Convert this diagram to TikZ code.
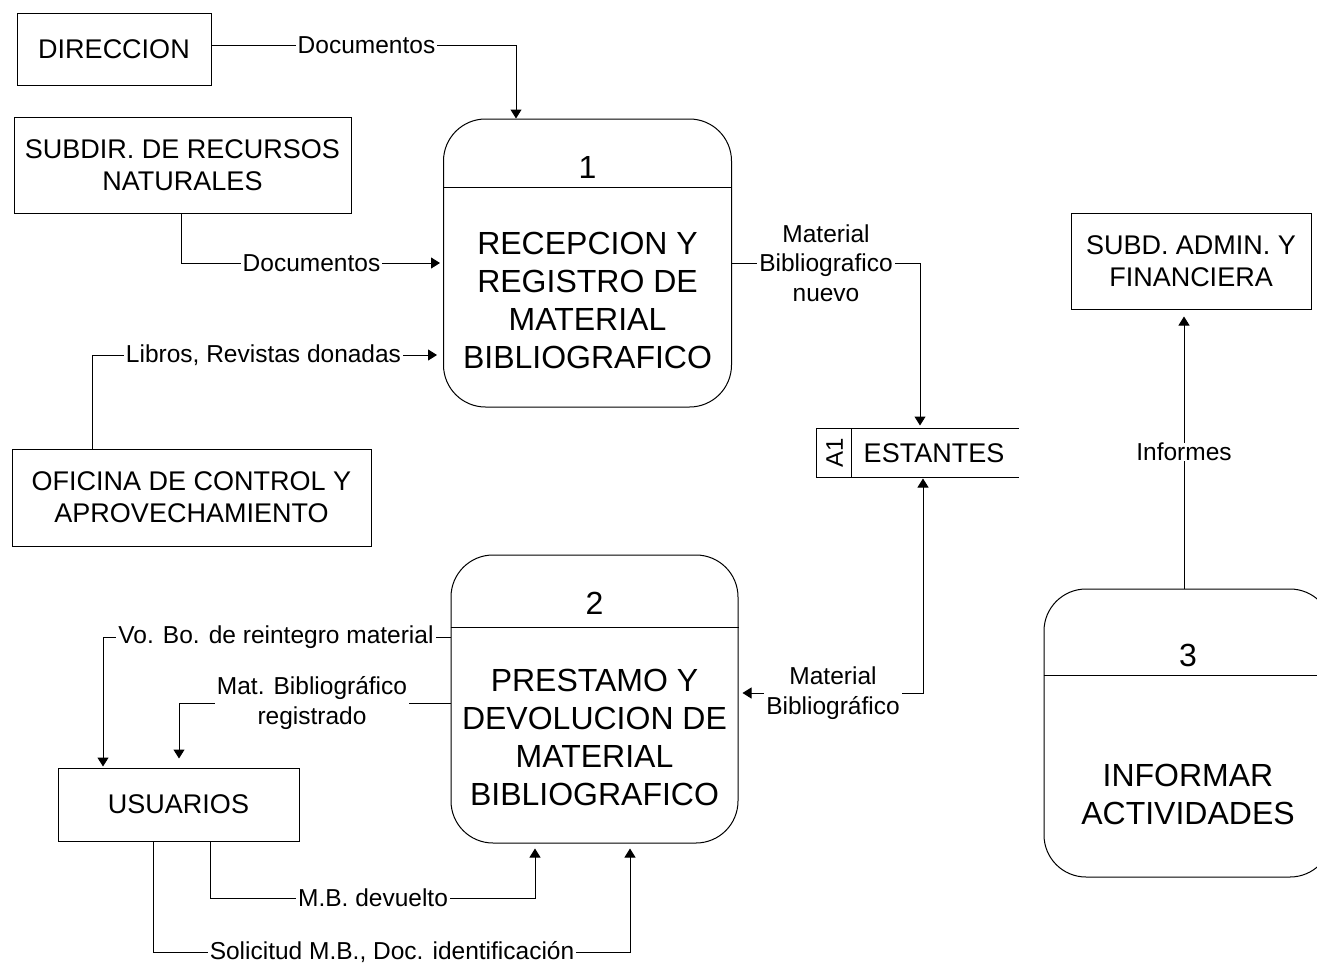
\documentclass[tikz,border=0pt]{standalone}
\usepackage{fontspec}
\setmainfont{Liberation Sans}
\usetikzlibrary{arrows.meta}

\begin{document}
\begin{tikzpicture}[x=1pt,y=-1pt,line width=1pt,
  ext/.style={draw, align=center, inner sep=0pt, font=\fontsize{27}{32}\selectfont},
  proc/.style={draw, rounded corners=42pt, inner sep=0pt, minimum width=288pt, minimum height=288pt},
  ptext/.style={align=center, inner sep=0pt, font=\fontsize{32}{38}\selectfont},
  flowlbl/.style={fill=white, align=center, inner xsep=2pt, inner ysep=0pt, font=\fontsize{24.5}{29.5}\selectfont},
  tip/.style={Triangle[length=9pt,width=11pt]},
  flow/.style={-{Triangle[length=9pt,width=11pt]}},
]
\useasboundingbox (0,0) rectangle (1317,964);
\clip (0,0) rectangle (1317,964);

% external entities
\node[ext, minimum width=194pt, minimum height=72pt] (dir) at (114,49) {DIRECCION};
\node[ext, minimum width=337pt, minimum height=96pt] (sub) at (182.5,165) {SUBDIR. DE RECURSOS\\NATURALES};
\node[ext, minimum width=359pt, minimum height=97pt] (ofi) at (191.5,497.5) {OFICINA DE CONTROL Y\\APROVECHAMIENTO};
\node[ext, minimum width=241pt, minimum height=73pt] (usu) at (178.5,804.5) {USUARIOS};
\node[ext, minimum width=240pt, minimum height=96pt] (sa) at (1191,261) {SUBD. ADMIN. Y\\FINANCIERA};

% processes
\node[proc] (P1) at (587.5,263) {};
\draw (P1.west |- 0,187) -- (P1.east |- 0,187);
\node[ptext] (n1) at (587.5,167) {1};
\node[ptext] (t1) at (587.5,300) {RECEPCION Y\\REGISTRO DE\\MATERIAL\\BIBLIOGRAFICO};

\node[proc, minimum width=287pt] (P2) at (594.5,699) {};
\draw (P2.west |- 0,627) -- (P2.east |- 0,627);
\node[ptext] (n2) at (594.5,603) {2};
\node[ptext] (t2) at (594.5,737) {PRESTAMO Y\\DEVOLUCION DE\\MATERIAL\\BIBLIOGRAFICO};

\node[proc] (P3) at (1188,733) {};
\draw (P3.west |- 0,675) -- (P3.east |- 0,675);
\node[ptext] (n3) at (1188,655) {3};
\node[ptext] (t3) at (1188,794) {INFORMAR\\ACTIVIDADES};

% data store
\node[minimum width=201pt, minimum height=48pt, inner sep=0pt] (st) at (917.5,453) {};
\draw (st.north east) -- (st.north west) -- (st.south west) -- (st.south east);
\draw ([xshift=35pt]st.north west) -- ([xshift=35pt]st.south west);
\node[rotate=90, inner sep=0pt, font=\fontsize{24}{28}\selectfont] (a1) at (834.5,453) {A1};
\node[inner sep=0pt, font=\fontsize{27}{32}\selectfont] (est) at (934,453) {ESTANTES};

% data flows
\draw[flow] ([yshift=4pt]dir.east) -| ([xshift=-71.5pt]P1.north);
\draw[flow, shorten >=3pt] ([xshift=-1.5pt]sub.south) |- (P1.west);
\draw[flow, shorten >=6pt] ([xshift=-99.5pt]ofi.north) |- ([yshift=-92pt]P1.west);
\draw[flow, shorten >=3pt] (P1.east) -| ([xshift=2.5pt]st.north);
\draw[{Triangle[length=9pt,width=11pt]}-{Triangle[length=9pt,width=11pt]}, shorten >=4pt, shorten <=1pt]
  ([xshift=5.5pt]st.south) |- ([yshift=6pt]P2.east);
\draw[flow, shorten >=1pt] ([yshift=62pt]P2.west) -| ([xshift=-75.5pt]usu.north);
\draw[flow, shorten >=9pt] ([yshift=-4pt]P2.west) -| ([xshift=0.5pt]usu.north);
\draw[flow, shorten >=5pt] ([xshift=31.5pt]usu.south) -- ++(0,57) -| ([xshift=-59.5pt]P2.south);
\draw[flow, shorten >=5pt] ([xshift=-25.5pt]usu.south) -- ++(0,111) -| ([xshift=35.5pt]P2.south);
\draw[flow, shorten >=7pt] ([xshift=-4pt]P3.north) -- ([xshift=-7pt]sa.south);

% flow labels
\node[flowlbl] (l1) at (366.5,45) {Documentos};
\node[flowlbl] (l2) at (311.5,263) {Documentos};
\node[flowlbl] (l3) at (263.5,355) {Libros, Revistas donadas};
\node[flowlbl] (l4) at (826,263) {Material\\Bibliografico\\nuevo};
\node[flowlbl] (l5) at (833,693) {Material\\Bibliográfico};
\node[flowlbl] (l6) at (276,637) {Vo. Bo. de reintegro material};
\node[flowlbl] (l7) at (312,703) {Mat. Bibliográfico\\registrado};
\node[flowlbl] (l8) at (373,898) {M.B. devuelto};
\node[flowlbl] (l9) at (392,952) {Solicitud M.B., Doc. identificación};
\node[flowlbl] (l10) at (1184,452) {Informes};
\end{tikzpicture}
\end{document}
